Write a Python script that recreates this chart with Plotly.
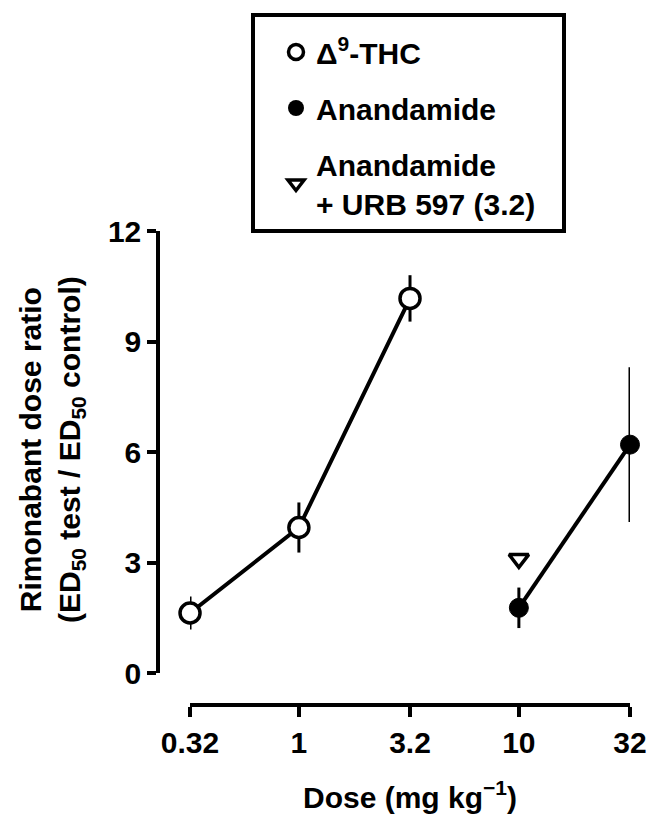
import plotly.graph_objects as go

W, H = 649, 817

# Data
thc_dose = [0.32, 1, 3.2]
thc_ratio = [1.63, 3.95, 10.17]
thc_sem = [0.45, 0.68, 0.63]

ana_dose = [10, 32]
ana_ratio = [1.77, 6.2]
ana_sem = [0.55, 2.1]

urb_dose = [10]
urb_ratio = [3.1]

x_ticks = [0.32, 1, 3.2, 10, 32]
x_ticklabels = ["0.32", "1", "3.2", "10", "32"]
y_ticks = [0, 3, 6, 9, 12]

FONT = "Liberation Sans"
FS = 30
LW = 3.5


def px_x(p):
    return p / W


def px_y(p):
    return 1 - p / H


fig = go.Figure()

fig.add_trace(go.Scatter(
    x=thc_dose, y=thc_ratio, mode="lines+markers",
    line=dict(color="black", width=4),
    marker=dict(symbol="circle", size=20, color="white", line=dict(color="black", width=3.5)),
    error_y=dict(type="data", array=thc_sem, visible=True, color="black", thickness=3, width=0),
    cliponaxis=False, showlegend=False,
))
fig.add_trace(go.Scatter(
    x=ana_dose, y=ana_ratio, mode="lines+markers",
    line=dict(color="black", width=4),
    marker=dict(symbol="circle", size=19, color="black", line=dict(color="black", width=1)),
    error_y=dict(type="data", array=ana_sem, visible=True, color="black", thickness=3, width=0),
    cliponaxis=False, showlegend=False,
))
fig.add_trace(go.Scatter(
    x=urb_dose, y=urb_ratio, mode="markers",
    marker=dict(symbol="triangle-down-open", size=17, color="black", line=dict(color="black", width=3.5)),
    cliponaxis=False, showlegend=False,
))

# legend-only entries
fig.add_trace(go.Scatter(
    x=[None], y=[None], mode="markers", name="Δ<sup>9</sup>-THC", legendgroup="a",
    marker=dict(symbol="circle", size=15, color="white", line=dict(color="black", width=3.5)),
))
fig.add_trace(go.Scatter(
    x=[None], y=[None], mode="markers", name="Anandamide", legendgroup="b",
    marker=dict(symbol="circle", size=16, color="black"),
))
fig.add_trace(go.Scatter(
    x=[None], y=[None], mode="markers", name="Anandamide<br>+ URB 597 (3.2)", legendgroup="c",
    marker=dict(symbol="triangle-down-open", size=14, color="black", line=dict(color="black", width=3.5)),
))

fig.update_layout(
    width=W, height=H,
    margin=dict(l=0, r=0, t=0, b=0),
    paper_bgcolor="white", plot_bgcolor="white",
    font=dict(family=FONT, size=FS, color="black", weight="bold"),
    showlegend=True,
    legend=dict(
        x=px_x(276), y=px_y(26), xanchor="left", yanchor="top",
        bgcolor="rgba(0,0,0,0)", borderwidth=0,
        font=dict(family=FONT, size=FS, color="black", weight="bold"),
        tracegroupgap=14, itemsizing="trace",
    ),
    xaxis=dict(
        type="log",
        range=[-0.4950, 1.5052],
        domain=[px_x(190), px_x(630)],
        anchor="free", position=px_y(705),
        showline=True, linecolor="black", linewidth=LW,
        ticks="outside", ticklen=10, tickwidth=LW, tickcolor="black",
        tickvals=x_ticks, ticktext=x_ticklabels,
        tickfont=dict(family=FONT, size=FS, color="black", weight="bold"),
        showgrid=False, zeroline=False, automargin=False,
    ),
    yaxis=dict(
        range=[0, 12],
        domain=[px_y(673), px_y(231)],
        anchor="free", position=px_x(158),
        showline=True, linecolor="black", linewidth=LW,
        ticks="outside", ticklen=9, tickwidth=LW, tickcolor="black",
        tickvals=y_ticks,
        tickfont=dict(family=FONT, size=FS, color="black", weight="bold"),
        showgrid=False, zeroline=False, automargin=False,
    ),
    shapes=[dict(
        type="rect", xref="paper", yref="paper",
        x0=px_x(253), x1=px_x(564), y0=px_y(231), y1=px_y(15),
        line=dict(color="black", width=4), fillcolor="rgba(0,0,0,0)",
    )],
    annotations=[
        dict(
            text="Rimonabant dose ratio<br>(ED<sub>50</sub> test / ED<sub>50</sub> control)",
            xref="paper", yref="paper", x=px_x(52), y=px_y(450),
            xanchor="center", yanchor="middle", textangle=-90, showarrow=False,
            font=dict(family=FONT, size=FS, color="black", weight="bold"),
        ),
        dict(
            text="Dose (mg kg<sup>−1</sup>)",
            xref="paper", yref="paper", x=px_x(410), y=px_y(795),
            xanchor="center", yanchor="middle", showarrow=False,
            font=dict(family=FONT, size=FS, color="black", weight="bold"),
        ),
    ],
)

fig.write_html("out.html")
